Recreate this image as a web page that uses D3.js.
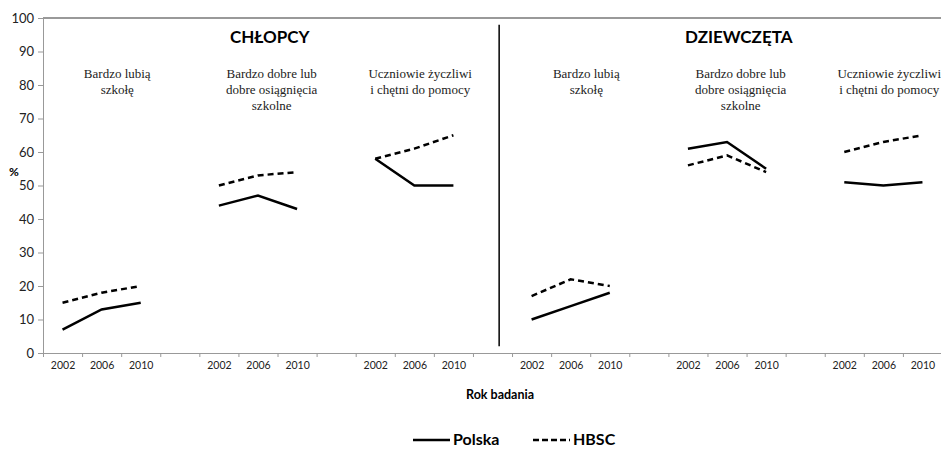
<!DOCTYPE html>
<html>
<head>
<meta charset="utf-8">
<script src="https://cdn.jsdelivr.net/npm/d3@7"></script>
<style>
  body { margin: 0; background: #fff; }
  .axis text { font-family: Lato, "Open Sans", sans-serif; fill: #222; }
  .grp { font-family: "Liberation Serif", "DejaVu Serif", serif; font-size: 13px; fill: #222; }
</style>
</head>
<body>
<script>
var outerWidth = 941, outerHeight = 449;

var margin = { top: 18, right: -1, bottom: 96, left: 43 };
var width = outerWidth - margin.left - margin.right,
  height = outerHeight - margin.top - margin.bottom;

// data
var years = ["2002", "2006", "2010"];
var panels = ["CHŁOPCY", "DZIEWCZĘTA"];
var groupLabels = [["Bardzo lubią", "szkołę"],
  ["Bardzo dobre lub", "dobre osiągnięcia", "szkolne"],
  ["Uczniowie  życzliwi", "i chętni do pomocy"]];
var polskaBoys = [[7, 13, 15], [44, 47, 43], [58, 50, 50]];
var hbscBoys = [[15, 18, 20], [50, 53, 54], [58, 61, 65]];
var polskaGirls = [[10, 14, 18], [61, 63, 55], [51, 50, 51]];
var hbscGirls = [[17, 22, 20], [56, 59, 54], [60, 63, 65]];
var yTicks = [0, 10, 20, 30, 40, 50, 60, 70, 80, 90, 100];

var nCats = 23;     // 3 years + 1 gap per group, 6 groups (last gap cut)
var labelShift = [0.4, 0.35, 0.15];   // label box offsets, in category units

var x = d3.scaleLinear().domain([0, nCats]).range([0, width]);
var y = d3.scaleLinear().domain([0, 100]).range([height, 0]);

var line = d3.line()
  .x(function (d) { return x(d.i + 0.5); })
  .y(function (d) { return y(d.v); });

var svg = d3.select("body").append("svg")
  .attr("width", outerWidth)
  .attr("height", outerHeight);

var g = svg.append("g")
  .attr("transform", "translate(" + margin.left + "," + margin.top + ")");

// top border at 100
g.append("line")
  .attr("x1", 0).attr("x2", width)
  .attr("y1", y(100)).attr("y2", y(100))
  .style("stroke", "#777").style("stroke-width", 1.5);

// y axis
var yAxis = d3.axisLeft(y).tickValues(yTicks).tickSize(5).tickPadding(4);
var ya = g.append("g").attr("class", "axis").call(yAxis);
ya.selectAll("text").style("font-size", "13px");
ya.selectAll("line, path").style("stroke", "#999");

// x axis: ticks at category edges, labels at centers
var catLabels = [];
for (var k = 0; k < nCats; k++) catLabels.push(k % 4 < 3 ? years[k % 4] : "");

var xTicks = g.append("g").attr("class", "axis")
  .attr("transform", "translate(0," + height + ")")
  .call(d3.axisBottom(x).tickValues(d3.range(0, nCats + 1)).tickSize(4).tickFormat(""));
xTicks.selectAll("line, path").style("stroke", "#999");

var xLab = g.append("g").attr("class", "axis")
  .attr("transform", "translate(0," + height + ")")
  .call(d3.axisBottom(x).tickValues(d3.range(0, nCats).map(function (k) { return k + 0.5; }))
    .tickSize(0).tickPadding(9)
    .tickFormat(function (d) { return catLabels[Math.floor(d)]; }));
xLab.select(".domain").remove();
xLab.selectAll("text").style("font-size", "10.5px");

// separator between panels
g.append("line")
  .attr("x1", x(11.67)).attr("x2", x(11.67))
  .attr("y1", y(98)).attr("y2", y(2))
  .style("stroke", "#000").style("stroke-width", 1.5);

var series = [
  { p: 0, data: polskaBoys, dash: null },
  { p: 0, data: hbscBoys, dash: "6,4" },
  { p: 1, data: polskaGirls, dash: null },
  { p: 1, data: hbscGirls, dash: "6,4" }
];

series.forEach(function (s) {
  s.data.forEach(function (vals, gi) {
    var start = (s.p * 3 + gi) * 4;
    g.append("path")
      .datum(vals.map(function (v, j) { return { i: start + j, v: v }; }))
      .attr("d", line)
      .style("fill", "none")
      .style("stroke", "#000")
      .style("stroke-width", 2.5)
      .style("stroke-dasharray", s.dash);
  });
});

// panel titles
panels.forEach(function (name, p) {
  g.append("text")
    .attr("x", x(p * 12 + 5.8))
    .attr("y", 25)
    .attr("text-anchor", "middle")
    .style("font-family", "Lato, 'Open Sans', sans-serif")
    .style("font-weight", "bold")
    .style("font-size", "17px")
    .text(name);
});

// group labels
panels.forEach(function (name, p) {
  groupLabels.forEach(function (lines, gi) {
    var cx = x((p * 3 + gi) * 4 + 1.5 + labelShift[gi]);
    var t = g.append("text").attr("class", "grp").attr("text-anchor", "middle");
    lines.forEach(function (l, li) {
      t.append("tspan").attr("x", cx).attr("y", 60 + li * 16).text(l);
    });
  });
});

// y label
svg.append("text")
  .attr("x", 9).attr("y", 176)
  .style("font-family", "Lato, sans-serif").style("font-weight", "bold").style("font-size", "12px")
  .text("%");

// x title
svg.append("text")
  .attr("x", 500).attr("y", 399)
  .attr("text-anchor", "middle")
  .style("font-family", "Lato, sans-serif").style("font-weight", "bold").style("font-size", "12.5px")
  .text("Rok badania");

// legend
var legend = [{ name: "Polska", dash: null, x: 413 }, { name: "HBSC", dash: "6,3", x: 533 }];
legend.forEach(function (d) {
  svg.append("line")
    .attr("x1", d.x).attr("x2", d.x + 37)
    .attr("y1", 440).attr("y2", 440)
    .style("stroke", "#000").style("stroke-width", 2.5)
    .style("stroke-dasharray", d.dash);
  svg.append("text")
    .attr("x", d.x + 40).attr("y", 445)
    .style("font-family", "Lato, sans-serif").style("font-weight", "bold").style("font-size", "16px")
    .text(d.name);
});
</script>
</body>
</html>
